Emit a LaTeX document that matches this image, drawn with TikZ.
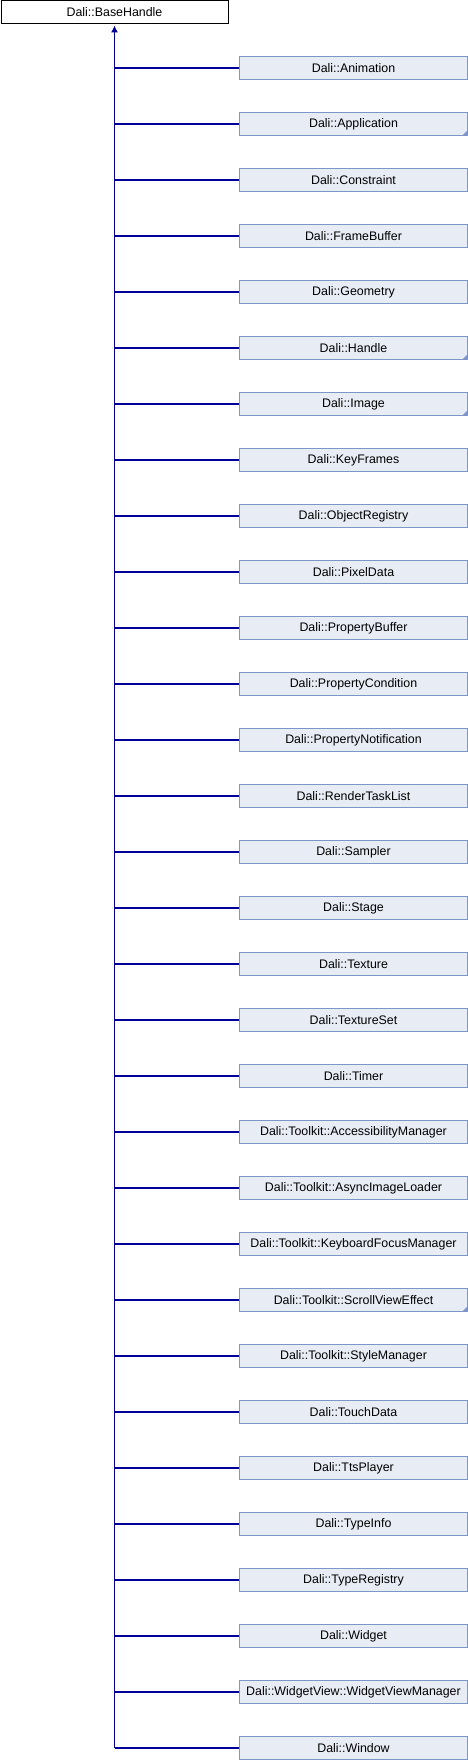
\documentclass[tikz,border=0pt]{standalone}
\usepackage{fontspec}
\setmainfont{Liberation Sans}
\usetikzlibrary{arrows.meta}
\definecolor{edgeblue}{RGB}{0,0,150}
\definecolor{boxfill}{RGB}{232,236,245}
\definecolor{boxline}{RGB}{124,149,202}
\begin{document}
\begin{tikzpicture}[x=1pt,y=-1pt,
  font=\fontsize{12.4}{14}\selectfont,
  basebox/.style={draw=black, fill=white, line width=1pt, minimum width=227pt, minimum height=22.5pt, inner sep=0pt, anchor=north west},
  clsbox/.style={draw=boxline, fill=boxfill, line width=1pt, minimum width=228pt, minimum height=22.5pt, inner sep=0pt},
  link/.style={draw=edgeblue, line width=1.1pt},
  corner/.style={fill=boxline}]
\fill[white] (0,0) rectangle (468,1760);
\useasboundingbox (0,0) rectangle (468,1760);
\node[basebox] (b) at (0.5,0.5) {Dali::BaseHandle};
\foreach [count=\i] \n in {Dali::Animation, Dali::Application, Dali::Constraint, Dali::FrameBuffer, Dali::Geometry, Dali::Handle, Dali::Image, Dali::KeyFrames, Dali::ObjectRegistry, Dali::PixelData, Dali::PropertyBuffer, Dali::PropertyCondition, Dali::PropertyNotification, Dali::RenderTaskList, Dali::Sampler, Dali::Stage, Dali::Texture, Dali::TextureSet, Dali::Timer, Dali::Toolkit::AccessibilityManager, Dali::Toolkit::AsyncImageLoader, Dali::Toolkit::KeyboardFocusManager, Dali::Toolkit::ScrollViewEffect, Dali::Toolkit::StyleManager, Dali::TouchData, Dali::TtsPlayer, Dali::TypeInfo, Dali::TypeRegistry, Dali::Widget, Dali::WidgetView::WidgetViewManager, Dali::Window} {
  \node[clsbox] (c\i) at (353.5, {68+56*(\i-1)}) {\n};
  \draw[link] (b.south |- c\i.west) -- (c\i.west);
}
\foreach \i in {2,6,7,23} {
  \fill[corner] (c\i.south east) -- ++(0,-6) -- ++(-6,6) -- cycle;
}
\draw[link, -{Latex[length=7pt,width=7pt]}] (b.south |- c31.west) -- ([yshift=-1.5pt]b.south);
\end{tikzpicture}
\end{document}
